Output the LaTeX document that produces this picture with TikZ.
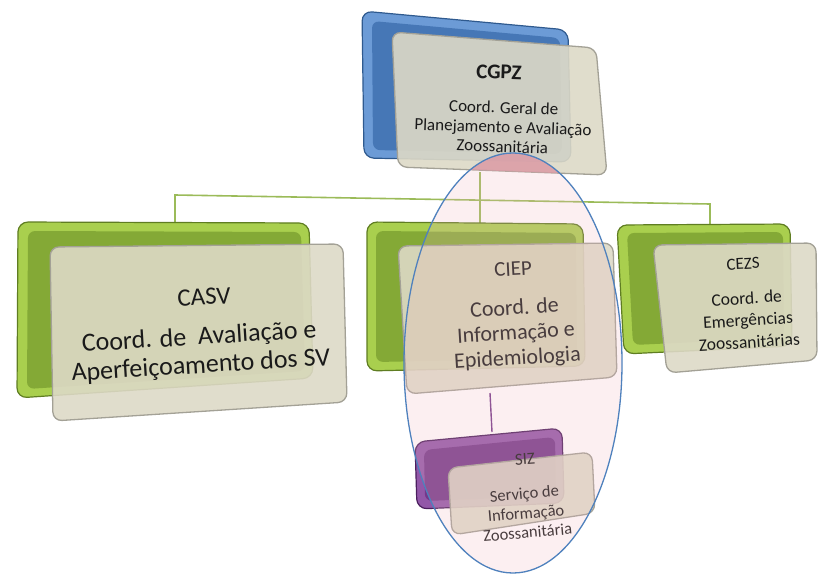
\documentclass[tikz,border=0pt]{standalone}
\usepackage{fontspec}
\setmainfont{Carlito}
\definecolor{lineg}{HTML}{9BBB59}
\definecolor{grim}{HTML}{A9CF4E}
\definecolor{gin}{HTML}{84A936}
\definecolor{gedge}{HTML}{5F7D22}
\definecolor{brim}{HTML}{6C9BD6}
\definecolor{bin}{HTML}{4677B6}
\definecolor{bedge}{HTML}{2F5A8F}
\definecolor{purrim}{HTML}{9257A8}
\definecolor{purin}{HTML}{74388A}
\definecolor{puredge}{HTML}{4B1F5E}
\definecolor{beige}{HTML}{DDD9C6}
\definecolor{bgrey}{HTML}{A3A196}
\definecolor{ellb}{HTML}{4F81BD}
\definecolor{pinkf}{HTML}{F0B8C0}
\definecolor{pinkd}{HTML}{D4909C}
\definecolor{txt}{HTML}{1A1A1A}
\tikzset{
  conn/.style={draw=lineg, line width=1.6pt},
  pconn/.style={draw=purin, line width=1.4pt},
  rimbox/.style={rounded corners=10pt, line width=1.2pt},
  innerbox/.style={rounded corners=7pt},
  frontbox/.style={rounded corners=9pt, fill=beige, fill opacity=0.9, draw=bgrey, line width=1.3pt},
  lbl/.style={text=txt, align=center, inner sep=0pt},
}
\begin{document}
\begin{tikzpicture}[x=1pt,y=-1pt]
\useasboundingbox (0,0) rectangle (819,578);
% connector coordinates
\coordinate (cgpzbot) at (480,172);
\coordinate (jl) at (175,195);
\coordinate (jr) at (710,204);
\coordinate (casvtop) at (175,223);
\coordinate (cieptop) at (480,224);
\coordinate (cezstop) at (710,226);
\coordinate (ciepbot) at (490,393);
\coordinate (siztop) at (492,432);
% connectors
\draw[conn] (casvtop) -- (jl) -- (jr) -- (cezstop);
\draw[conn] (cgpzbot) -- (cieptop);
\draw[pconn] (ciepbot) -- (siztop);
% ---- back boxes ----
% blue CGPZ
\draw[rimbox, fill=brim, draw=bedge] (362,11) -- (568,30) -- (571,162) -- (364,158) -- cycle;
\fill[innerbox, bin] (372,21) -- (560,38) -- (562,154) -- (373,150) -- cycle;
% green CASV
\draw[rimbox, fill=grim, draw=gedge] (18,222) -- (309,223) -- (313,378) -- (17,398) -- cycle;
\fill[innerbox, gin] (28,231) -- (301,232) -- (305,371) -- (27,389) -- cycle;
% green CIEP
\draw[rimbox, fill=grim, draw=gedge] (367,222) -- (583,224) -- (585,366) -- (367,371) -- cycle;
\fill[innerbox, gin] (376,231) -- (576,233) -- (577,358) -- (376,362) -- cycle;
% green CEZS
\draw[rimbox, fill=grim, draw=gedge] (617,225) -- (790,224) -- (792,346) -- (624,354) -- cycle;
\fill[innerbox, gin] (627,233) -- (783,232) -- (784,338) -- (633,345) -- cycle;
% purple SIZ
\draw[rimbox, fill=purrim, draw=puredge] (415,442) -- (562,428) -- (564,503) -- (417,509) -- cycle;
\fill[innerbox, purin] (424,450) -- (555,437) -- (556,496) -- (425,501) -- cycle;
% ---- front boxes ----
\draw[frontbox] (392,32) -- (596,48) -- (607,175) -- (398,167) -- cycle;
\draw[frontbox] (50,247) -- (343,244) -- (347,402) -- (53,421) -- cycle;
\draw[frontbox] (398,246) -- (613,243) -- (617,377) -- (407,394) -- cycle;
\draw[frontbox] (653,245) -- (816,243) -- (817,360) -- (667,373) -- cycle;
\draw[frontbox] (448,468) -- (592,452) -- (595,513) -- (452,535) -- cycle;
% ---- pink cap where the highlight meets the CGPZ box ----
\begin{scope}
  \clip (392,32) -- (596,48) -- (607,175) -- (398,167) -- cycle;
  \fill[pinkd, fill opacity=0.8] (513,363) ellipse [x radius=109pt, y radius=210pt];
\end{scope}
% ---- texts ----
\node[lbl, rotate=-2, font=\fontsize{21}{24}\selectfont\bfseries] (cgpzt) at (499,72) {CGPZ};
\node[lbl, rotate=-2, font=\fontsize{17}{19.5}\selectfont] (cgpz) at (503,127) {Coord. Geral de\\Planejamento e Avaliação\\Zoossanitária};
\node[lbl, rotate=3, font=\fontsize{25}{28}\selectfont] (casvt) at (204,297) {CASV};
\node[lbl, rotate=3.5, font=\fontsize{26}{28.5}\selectfont] (casv) at (200,352) {Coord. de\ \ Avaliação e\\Aperfeiçoamento dos SV};
\node[lbl, rotate=3, font=\fontsize{21}{24}\selectfont] (ciept) at (513,269) {CIEP};
\node[lbl, rotate=3.5, font=\fontsize{22}{25}\selectfont] (ciep) at (516,334) {Coord. de\\Informação e\\Epidemiologia};
\node[lbl, rotate=3, font=\fontsize{17}{20}\selectfont] (cezst) at (743,264) {CEZS};
\node[lbl, rotate=3.5, font=\fontsize{17.5}{22}\selectfont] (cezs) at (748,320) {Coord. de\\Emergências\\Zoossanitárias};
\node[lbl, rotate=4, font=\fontsize{17}{20}\selectfont] (sizt) at (525,459) {SIZ};
\node[lbl, rotate=5, font=\fontsize{16.5}{19.5}\selectfont] (siz) at (526,513) {Serviço de\\Informação\\Zoossanitária};
% ---- ellipse highlight ----
\fill[pinkf, fill opacity=0.22] (513,363) ellipse [x radius=109pt, y radius=210pt];
\draw[ellb, line width=1.3pt] (513,363) ellipse [x radius=109pt, y radius=210pt];
\end{tikzpicture}
\end{document}
